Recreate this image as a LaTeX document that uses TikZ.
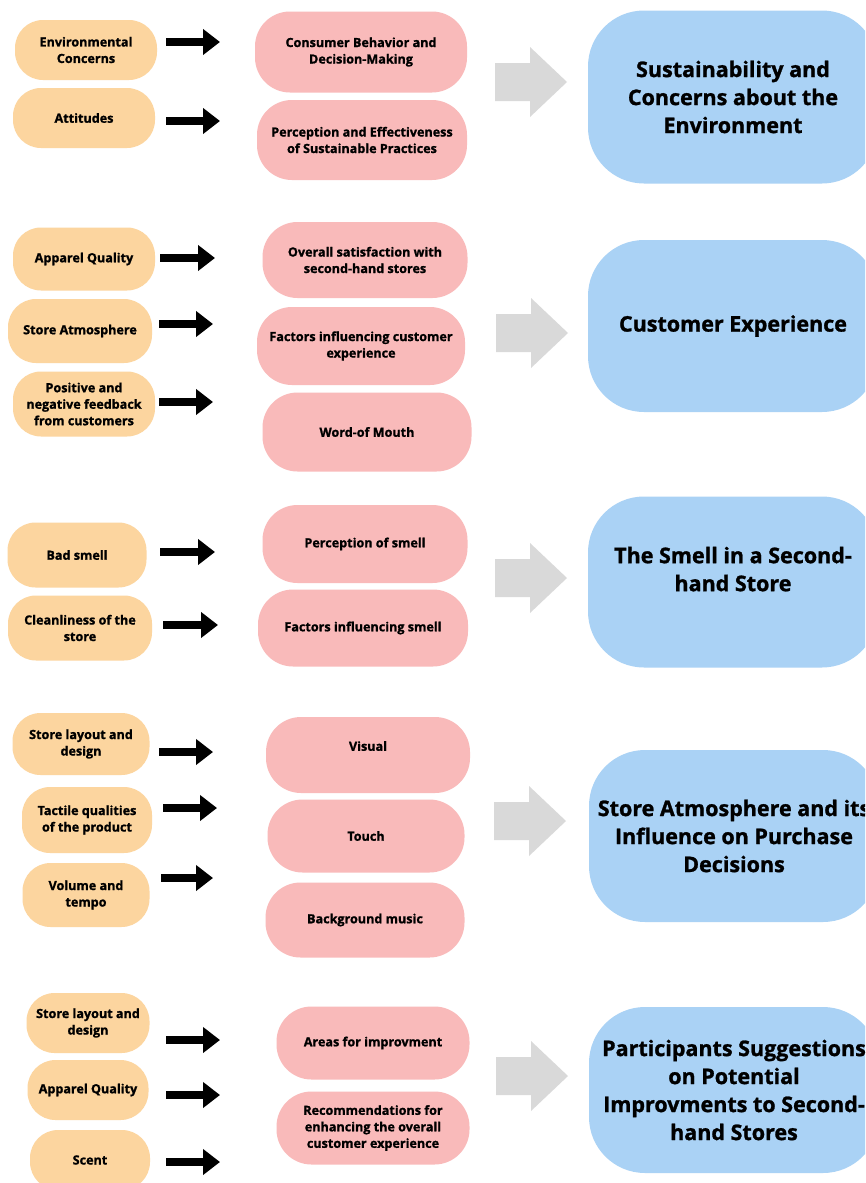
\documentclass[tikz,border=0pt]{standalone}
\usepackage{fontspec}
\setmainfont{Open Sans}[BoldFeatures={FakeBold=1.2}]
\usetikzlibrary{arrows.meta}
\definecolor{orng}{HTML}{FCD59F}
\definecolor{pnk}{HTML}{F9BABA}
\definecolor{blu}{HTML}{AAD2F5}
\definecolor{gry}{HTML}{D9D9D9}
\tikzset{
  obox/.style={fill=orng, rounded corners=28pt, inner sep=0pt, align=center,
    font=\bfseries\fontsize{12.6}{16.5}\selectfont},
  pbox/.style={fill=pnk, rounded corners=35pt, inner sep=0pt, align=center,
    font=\bfseries\fontsize{12.6}{16.5}\selectfont},
  bbox/.style={fill=blu, rounded corners=56pt, inner sep=0pt, align=center,
    minimum width=290pt, font=\bfseries\fontsize{21.5}{28}\selectfont},
  blk/.style={line width=8pt, -{Triangle[length=17pt,width=25pt]}},
  pics/grayarrow/.style={code={
    \fill[gry] (-36,-19) -- (-1,-19) -- (-1,-35) -- (36,0) -- (-1,35) -- (-1,19) -- (-36,19) -- cycle;
  }}
}
\begin{document}
\begin{tikzpicture}[x=1pt,y=-1pt]
\useasboundingbox (0,0) rectangle (865,1183);
\clip (0,0) rectangle (865,1183);
\fill[white] (0,0) rectangle (865,1183);

% ---------- Section 1 ----------
\node[obox, minimum width=142pt, minimum height=60pt] (o11) at (86,50) {Environmental\\Concerns};
\node[obox, minimum width=142pt, minimum height=60pt] (o12) at (84,118) {Attitudes};
\node[pbox, minimum width=212pt, minimum height=81pt] (p11) at (361,52) {Consumer Behavior and\\Decision-Making};
\node[pbox, minimum width=210pt, minimum height=80pt] (p12) at (362,140) {Perception and Effectiveness\\of Sustainable Practices};
\node[bbox, minimum height=173pt] (b1) at (733,97) {Sustainability and\\Concerns about the\\Environment};
\pic at (531,82) {grayarrow};
\coordinate (a11s) at (166,42); \coordinate (a11e) at (220,42);
\coordinate (a12s) at (166,121); \coordinate (a12e) at (220,121);
\draw[blk] (a11s) -- (a11e);
\draw[blk] (a12s) -- (a12e);

% ---------- Section 2 ----------
\node[obox, minimum width=142pt, minimum height=63pt] (o21) at (84,259) {Apparel Quality};
\node[obox, minimum width=144pt, minimum height=64pt] (o22) at (80,331) {Store Atmosphere};
\node[obox, minimum width=142pt, minimum height=65pt] (o23) at (84,404) {Positive and\\negative feedback\\from customers};
\node[pbox, minimum width=205pt, minimum height=76pt] (p21) at (365,260) {Overall satisfaction with\\second-hand stores};
\node[pbox, minimum width=208pt, minimum height=78pt] (p22) at (361,346) {Factors influencing customer\\experience};
\node[pbox, minimum width=209pt, minimum height=79pt] (p23) at (367,432) {Word-of Mouth};
\node[bbox, minimum height=172pt] (b2) at (733,326) {Customer Experience};
\pic at (532,333) {grayarrow};
\coordinate (a21s) at (160,258); \coordinate (a21e) at (215,258);
\coordinate (a22s) at (159,324); \coordinate (a22e) at (213,324);
\coordinate (a23s) at (159,402); \coordinate (a23e) at (213,402);
\draw[blk] (a21s) -- (a21e);
\draw[blk] (a22s) -- (a22e);
\draw[blk] (a23s) -- (a23e);

% ---------- Section 3 ----------
\node[obox, minimum width=139pt, minimum height=65pt] (o31) at (77,555) {Bad smell};
\node[obox, minimum width=144pt, minimum height=65pt] (o32) at (80,628) {Cleanliness of the\\store};
\node[pbox, minimum width=205pt, minimum height=78pt] (p31) at (365,544) {Perception of smell};
\node[pbox, minimum width=210pt, minimum height=77pt] (p32) at (363,628) {Factors influencing smell};
\node[bbox, minimum height=171pt, text depth=26pt] (b3) at (733,582) {The Smell in a Second-\\hand Store};
\pic at (531,578) {grayarrow};
\coordinate (a31s) at (160,552); \coordinate (a31e) at (215,552);
\coordinate (a32s) at (163,625); \coordinate (a32e) at (218,625);
\draw[blk] (a31s) -- (a31e);
\draw[blk] (a32s) -- (a32e);

% ---------- Section 4 ----------
\node[obox, minimum width=137pt, minimum height=62pt] (o41) at (81,744) {Store layout and\\design};
\node[obox, minimum width=130pt, minimum height=66pt] (o42) at (87,820) {Tactile qualities\\of the product};
\node[obox, minimum width=127pt, minimum height=64pt] (o43) at (86,895) {Volume and\\tempo};
\node[pbox, minimum width=204pt, minimum height=76pt, text depth=18pt] (p41) at (368,755) {Visual};
\node[pbox, minimum width=197pt, minimum height=73pt] (p42) at (366,836) {Touch};
\node[pbox, minimum width=199pt, minimum height=75pt] (p43) at (365,920) {Background music};
\node[bbox, minimum height=172pt] (b4) at (734,836) {Store Atmosphere and its\\Influence on Purchase\\Decisions};
\pic at (530,821) {grayarrow};
\coordinate (a41s) at (159,752); \coordinate (a41e) at (213,752);
\coordinate (a42s) at (163,808); \coordinate (a42e) at (217,808);
\coordinate (a43s) at (161,878); \coordinate (a43e) at (213,878);
\draw[blk] (a41s) -- (a41e);
\draw[blk] (a42s) -- (a42e);
\draw[blk] (a43s) -- (a43e);

% ---------- Section 5 ----------
\node[obox, minimum width=123pt, minimum height=60pt] (o51) at (88,1023) {Store layout and\\design};
\node[obox, minimum width=121pt, minimum height=60pt] (o52) at (88,1090) {Apparel Quality};
\node[obox, minimum width=120pt, minimum height=60pt] (o53) at (90,1160) {Scent};
\node[pbox, minimum width=193pt, minimum height=73pt] (p51) at (373,1043) {Areas for improvment};
\node[pbox, minimum width=193pt, minimum height=73pt] (p52) at (373,1128) {Recommendations for\\enhancing the overall\\customer experience};
\node[bbox, minimum height=166pt] (b5) at (734,1090) {Participants Suggestions\\on Potential\\Improvments to Second-\\hand Stores};
\pic at (532,1076) {grayarrow};
\coordinate (a51s) at (166,1040); \coordinate (a51e) at (220,1040);
\coordinate (a52s) at (166,1095); \coordinate (a52e) at (220,1095);
\coordinate (a53s) at (166,1162); \coordinate (a53e) at (220,1162);
\draw[blk] (a51s) -- (a51e);
\draw[blk] (a52s) -- (a52e);
\draw[blk] (a53s) -- (a53e);
\end{tikzpicture}
\end{document}
